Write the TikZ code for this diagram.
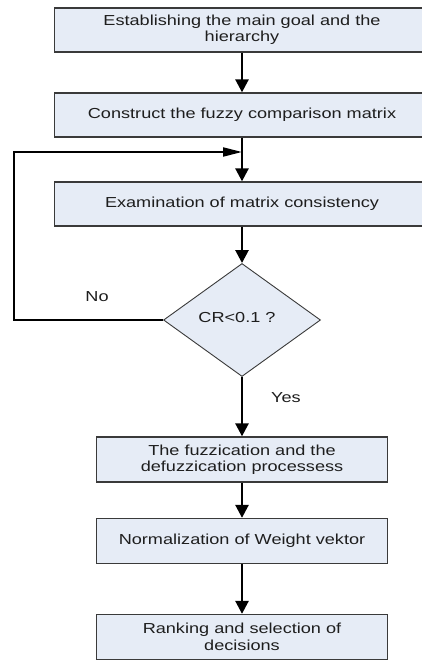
\documentclass[tikz,border=0pt]{standalone}
\usepackage{fontspec}
\setmainfont{Liberation Sans}[FakeStretch=1.25]
\usetikzlibrary{arrows.meta,shapes.geometric}
\definecolor{boxfill}{HTML}{E6ECF6}
\definecolor{boxline}{HTML}{3A3A3A}
\definecolor{txt}{HTML}{1E1E1E}
\begin{document}
\begin{tikzpicture}[x=1pt,y=-1pt,
  every node/.style={font=\fontsize{14.5}{16.5}\selectfont, text=txt},
  wbox/.style={draw=boxline, line width=1.3pt, fill=boxfill, minimum width=375pt, minimum height=44pt, align=center, inner sep=0pt},
  nbox/.style={draw=boxline, line width=1.3pt, fill=boxfill, minimum width=291pt, minimum height=45pt, align=center, inner sep=0pt},
  dec/.style={diamond, draw=boxline, line width=0.9pt, fill=boxfill, minimum width=157pt, minimum height=113pt, inner sep=0pt, aspect=1.39},
  flow/.style={line width=2.6pt, -{Triangle[length=13pt,width=13pt]}},
  back/.style={line width=2pt, -{Triangle[length=19pt,width=9pt]}},
  lbl/.style={inner sep=0pt}]
\useasboundingbox (0,0) rectangle (422,660);
\node[wbox] (b1) at (242,30) {Establishing the main goal and the\\hierarchy};
\node[wbox] (b2) at (242,115) {Construct the fuzzy comparison matrix};
\node[wbox] (b3) at (242,204) {Examination of matrix consistency};
\node[dec, minimum width=157pt, minimum height=113pt] (d) at (242,320) {};
\node[lbl] (dt) at (237,318) {CR<0.1 ?};
\node[nbox] (b4) at (242,459.5) {The fuzzication and the\\defuzzication processess};
\node[nbox] (b5) at (242,541) {Normalization of Weight vektor};
\node[nbox] (b6) at (242,637) {Ranking and selection of\\decisions};
\node[lbl] (no) at (97,297) {No};
\node[lbl] (yes) at (286,398) {Yes};
\coordinate (c1) at (14,320);
\coordinate (c2) at (14,152);
\coordinate (c3) at (242,152);
\draw[flow] (b1.south) -- (b2.north);
\draw[flow] (b2.south) -- (b3.north);
\draw[flow] (b3.south) -- (d.north);
\draw[flow] (d.south) -- (b4.north);
\draw[flow] (b4.south) -- (b5.north);
\draw[flow] (b5.south) -- (b6.north);
\draw[back] (d.west) -- (c1) -- (c2) -- (c3);
\end{tikzpicture}
\end{document}
